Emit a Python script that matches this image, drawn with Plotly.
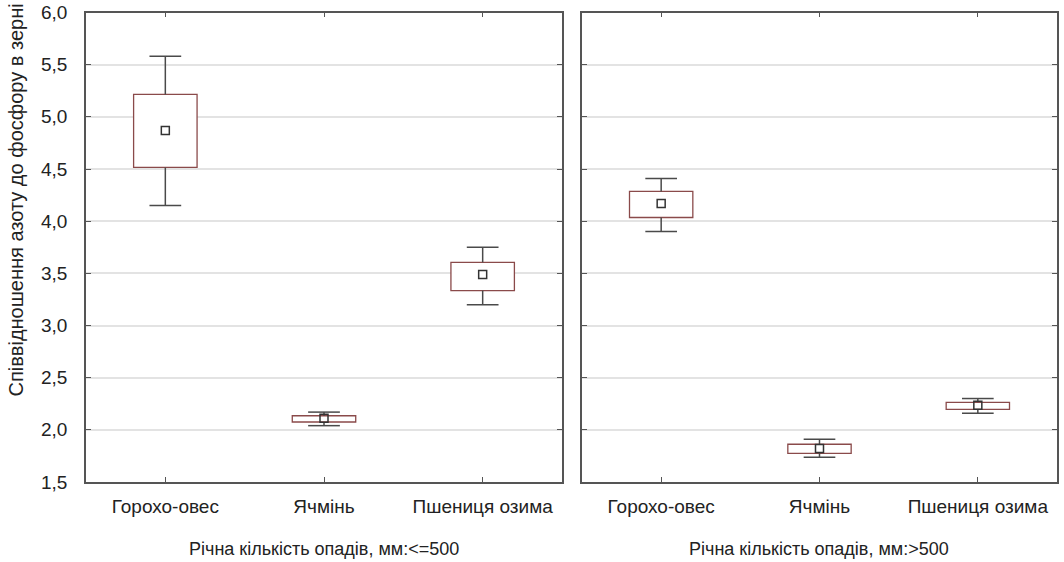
import plotly.graph_objects as go
from plotly.subplots import make_subplots

categories = ["Горохо-овес", "Ячмінь", "Пшениця озима"]
panel_titles = ["Річна кількість опадів, мм:<=500", "Річна кількість опадів, мм:>500"]
y_title = "Співвідношення азоту до фосфору в зерні"

# panel 1 (<=500 mm)
p1_mean = [4.87, 2.11, 3.49]
p1_box_lo = [4.515, 2.075, 3.335]
p1_box_hi = [5.215, 2.135, 3.605]
p1_wh_lo = [4.15, 2.04, 3.20]
p1_wh_hi = [5.58, 2.17, 3.75]

# panel 2 (>500 mm)
p2_mean = [4.17, 1.82, 2.235]
p2_box_lo = [4.035, 1.775, 2.197]
p2_box_hi = [4.285, 1.862, 2.264]
p2_wh_lo = [3.90, 1.737, 2.159]
p2_wh_hi = [4.41, 1.91, 2.30]

y_ticks = [1.5, 2.0, 2.5, 3.0, 3.5, 4.0, 4.5, 5.0, 5.5, 6.0]

BOX_W = 0.40
CAP_HALF = 0.10
FONT = "Arial, Liberation Sans, sans-serif"
FS = 19
TXT = "#222222"
AX_COL = "#555555"
BOX_COL = "#8a4a4a"
WH_COL = "#4a4a4a"

fig = make_subplots(rows=1, cols=2, shared_yaxes=False)

panels = [
    (p1_mean, p1_box_lo, p1_box_hi, p1_wh_lo, p1_wh_hi),
    (p2_mean, p2_box_lo, p2_box_hi, p2_wh_lo, p2_wh_hi),
]

idx = list(range(len(categories)))
for col, (mean, blo, bhi, wlo, whi) in enumerate(panels, start=1):
    # boxes
    fig.add_trace(go.Bar(
        x=idx, base=blo, y=[h - l for h, l in zip(bhi, blo)], width=BOX_W,
        marker=dict(color="white", line=dict(color=BOX_COL, width=1.3)),
        showlegend=False, hoverinfo="skip"), row=1, col=col)
    # whisker stems
    sx, sy = [], []
    for i in idx:
        sx += [i, i, None, i, i, None]
        sy += [bhi[i], whi[i], None, blo[i], wlo[i], None]
    fig.add_trace(go.Scatter(x=sx, y=sy, mode="lines",
                             line=dict(color=WH_COL, width=1.5),
                             showlegend=False, hoverinfo="skip"), row=1, col=col)
    # caps
    cx, cy = [], []
    for i in idx:
        cx += [i - CAP_HALF, i + CAP_HALF, None, i - CAP_HALF, i + CAP_HALF, None]
        cy += [whi[i], whi[i], None, wlo[i], wlo[i], None]
    fig.add_trace(go.Scatter(x=cx, y=cy, mode="lines",
                             line=dict(color=WH_COL, width=1.5),
                             showlegend=False, hoverinfo="skip"), row=1, col=col)
    # means
    fig.add_trace(go.Scatter(x=idx, y=mean, mode="markers",
                             marker=dict(symbol="square-open", size=8,
                                         color="#333333", line=dict(width=1.5)),
                             showlegend=False), row=1, col=col)

x_domains = [[86 / 1064, 562 / 1064], [582 / 1064, 1057 / 1064]]
y_domain = [1 - 482 / 562, 1 - 12.5 / 562]

for col in (1, 2):
    fig.update_xaxes(
        row=1, col=col, domain=x_domains[col - 1], range=[-0.5, 2.5],
        tickmode="array", tickvals=idx, ticktext=categories,
        ticks="inside", ticklen=5, tickcolor=AX_COL, tickwidth=1,
        showline=True, linecolor=AX_COL, linewidth=1.5, mirror="ticks",
        showgrid=False, zeroline=False, automargin=False,
        tickfont=dict(family=FONT, size=FS, color=TXT),
        ticklabelstandoff=6,
    )
    fig.update_yaxes(
        row=1, col=col, domain=y_domain, range=[1.5, 6.0],
        tickmode="array", tickvals=y_ticks, tickformat=".1f",
        ticks="inside", ticklen=5, tickcolor=AX_COL, tickwidth=1,
        showline=True, linecolor=AX_COL, linewidth=1.5, mirror="ticks",
        showgrid=True, gridcolor="#e3e3e3", gridwidth=1.5, zeroline=False,
        showticklabels=(col == 1), automargin=False,
        tickfont=dict(family=FONT, size=FS, color=TXT),
        ticklabelstandoff=13,
    )
    # panel (x-axis) titles
    d = x_domains[col - 1]
    fig.add_annotation(
        text=panel_titles[col - 1], xref="paper", yref="paper",
        x=(d[0] + d[1]) / 2, y=1 - 549 / 562, xanchor="center", yanchor="middle",
        showarrow=False, font=dict(family=FONT, size=FS - 1, color=TXT))

fig.add_annotation(
    text=y_title, textangle=-90,
    xref="paper", yref="paper", x=15 / 1064, y=1 - 2 / 562,
    xanchor="center", yanchor="top", showarrow=False,
    font=dict(family=FONT, size=FS + 1, color=TXT))

fig.update_layout(
    width=1064, height=562,
    margin=dict(l=0, r=0, t=0, b=0, autoexpand=False),
    paper_bgcolor="white", plot_bgcolor="white",
    separators=", ",
    barmode="overlay",
    font=dict(family=FONT),
)

fig.write_html(
    "out.html",
    config={"displayModeBar": False},
    post_script="document.body.style.margin='0';document.body.style.padding='0';",
)
